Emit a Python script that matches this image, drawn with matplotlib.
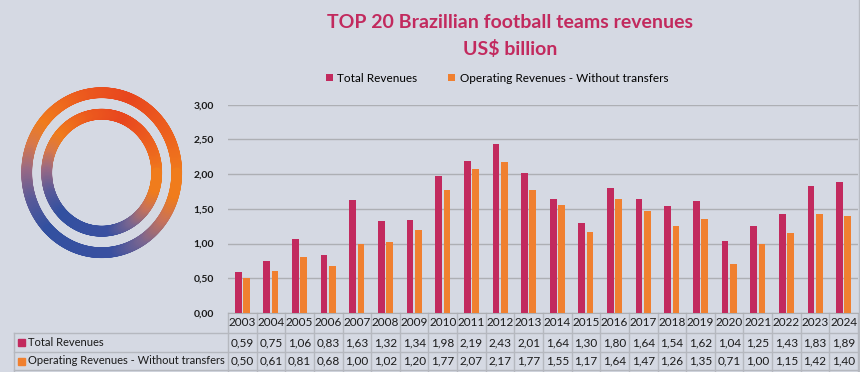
import numpy as np
import matplotlib
matplotlib.use("Agg")
import matplotlib.pyplot as plt
from matplotlib.collections import LineCollection
from matplotlib.colors import LinearSegmentedColormap

# data (US$ billion)
years = ["2003", "2004", "2005", "2006", "2007", "2008", "2009", "2010", "2011", "2012", "2013",
         "2014", "2015", "2016", "2017", "2018", "2019", "2020", "2021", "2022", "2023", "2024"]
total_revenues = [0.59, 0.75, 1.06, 0.83, 1.63, 1.32, 1.34, 1.98, 2.19, 2.43, 2.01,
                  1.64, 1.30, 1.80, 1.64, 1.54, 1.62, 1.04, 1.25, 1.43, 1.83, 1.89]
operating_revenues = [0.50, 0.61, 0.81, 0.68, 1.00, 1.02, 1.20, 1.77, 2.07, 2.17, 1.77,
                      1.55, 1.17, 1.64, 1.47, 1.26, 1.35, 0.71, 1.00, 1.15, 1.42, 1.40]
series_names = ["Total Revenues", "Operating Revenues - Without transfers"]
y_ticks = [0.0, 0.5, 1.0, 1.5, 2.0, 2.5, 3.0]

BG = "#D5D9E3"
CRIMSON = "#C22A5E"
ORANGE = "#F08030"
GRID = "#ADAFB4"
TEXT = "#1A1A1A"

plt.rcParams["font.family"] = ["Lato", "DejaVu Sans"]

W, H = 860, 372
fig = plt.figure(figsize=(W / 100, H / 100), dpi=100, facecolor=BG)

# overlay in pixel coordinates for logo + data table
ov = fig.add_axes([0, 0, 1, 1])
ov.set_xlim(0, W)
ov.set_ylim(H, 0)
ov.axis("off")

# right border
ov.plot([858.5, 858.5], [0, H], color="#B8BBC2", lw=1)

# ring logo with angular gradient
ring_cmap = LinearSegmentedColormap.from_list("ring", [
    (0.00, "#F07C1C"), (0.10, "#EC5E1E"), (0.20, "#E8461E"), (0.30, "#EC5A1E"),
    (0.40, "#F07C1C"), (0.45, "#D8784A"), (0.50, "#9A6A84"), (0.56, "#5A5A98"),
    (0.63, "#3250A0"), (0.78, "#3A50A0"), (0.85, "#7A6690"), (0.91, "#C8725A"),
    (0.96, "#F07C1C"), (1.00, "#F07C1C")])
cx, cy = 101.7, 172.7
for rx, ry in [(75, 80), (55, 58.5)]:
    t = np.linspace(0, 2 * np.pi, 721)
    xs = cx + rx * np.cos(t)
    ys = cy - ry * np.sin(t)
    pts = np.column_stack([xs, ys]).reshape(-1, 1, 2)
    segs = np.concatenate([pts[:-1], pts[1:]], axis=1)
    lc = LineCollection(segs, colors=ring_cmap(t[:-1] / (2 * np.pi)), linewidths=7.7,
                        capstyle="round")
    ov.add_collection(lc)

# main chart
ax = fig.add_axes([228 / W, 1 - 313 / H, 630 / W, (313 - 104.7) / H])
ax.set_facecolor("none")
x = np.arange(len(years))
bw = 0.235
ax.bar(x - 0.145, total_revenues, bw, color=CRIMSON, label=series_names[0], zorder=3)
ax.bar(x + 0.145, operating_revenues, bw, color=ORANGE, label=series_names[1], zorder=3)
ax.set_xlim(-0.5, len(years) - 0.5)
ax.set_ylim(0, 3.0)
ax.set_yticks(y_ticks)
ax.set_yticklabels([f"{v:.2f}".replace(".", ",") for v in y_ticks], fontsize=7.5,
                   color=TEXT, fontweight="bold")
ax.tick_params(axis="y", length=0, pad=10)
ax.set_xticks([])
ax.grid(axis="y", color=GRID, lw=1, zorder=0)
for s in ["top", "right", "left"]:
    ax.spines[s].set_visible(False)
ax.spines["bottom"].set_color(GRID)

fig.legend(loc="center", bbox_to_anchor=(497 / W, 1 - 78 / H), ncol=2, frameon=False,
           fontsize=8.5, handlelength=0.6, handleheight=0.6, handletextpad=0.4,
           columnspacing=2.6)

# title
fig.text(510 / W, 1 - 22 / H, "TOP 20 Brazillian football teams revenues", ha="center",
         va="center", fontsize=14, color=CRIMSON, fontweight="bold")
fig.text(510 / W, 1 - 49 / H, "US$ billion", ha="center", va="center", fontsize=14,
         color=CRIMSON, fontweight="bold")

# data table below the axis
col0, colw = 228, 630 / len(years)
line_kw = dict(color="#B5B8BF", lw=1)
for yy in [333, 352, 370]:
    ov.plot([14, 858], [yy, yy], **line_kw)
ov.plot([14, 14], [333, H], **line_kw)
for k in range(len(years) + 1):
    xx = col0 + k * colw
    ov.plot([xx, xx], [313, H], **line_kw)

fmt = lambda v: f"{v:.2f}".replace(".", ",")
for i, yr in enumerate(years):
    xc = col0 + (i + 0.5) * colw
    ov.text(xc, 323, yr, ha="center", va="center", fontsize=8.5, color=TEXT)
    ov.text(xc, 342.5, fmt(total_revenues[i]), ha="center", va="center", fontsize=8.5, color=TEXT)
    ov.text(xc, 361, fmt(operating_revenues[i]), ha="center", va="center", fontsize=8.5, color=TEXT)

for yy, name, c in [(342.5, series_names[0], CRIMSON), (361, series_names[1], ORANGE)]:
    ov.add_patch(plt.Rectangle((18, yy - 3.5), 7, 7, color=c))
    ov.text(28, yy, name, ha="left", va="center", fontsize=8, color=TEXT)

fig.savefig("out.png", dpi=100, facecolor=BG)
